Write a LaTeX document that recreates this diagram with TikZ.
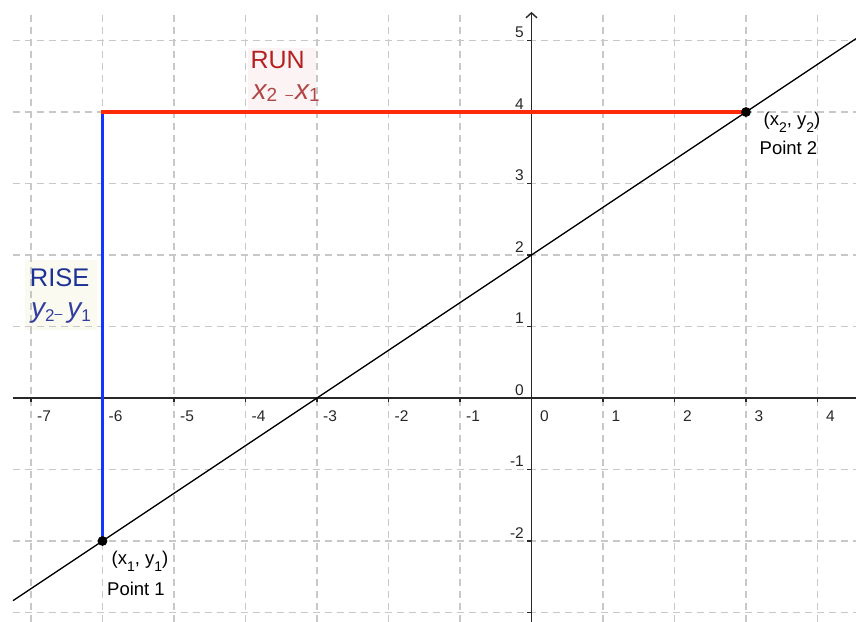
\documentclass[tikz,border=0pt]{standalone}
\usepackage{fontspec}
\setmainfont{Liberation Sans}
\usetikzlibrary{arrows.meta}
\definecolor{gridgray}{RGB}{200,200,200}
\definecolor{axisgray}{RGB}{40,40,40}
\definecolor{runred}{RGB}{255,42,8}
\definecolor{riseblue}{RGB}{22,52,255}
\definecolor{runtext}{RGB}{182,32,32}
\definecolor{runsub}{RGB}{176,70,70}
\definecolor{risetext}{RGB}{30,50,150}
\definecolor{risesub}{RGB}{52,62,160}
\definecolor{runbg}{RGB}{252,244,244}
\definecolor{risebg}{RGB}{250,250,240}
\newcommand{\bigit}[1]{{\fontsize{28}{28}\selectfont\itshape #1}}
\newcommand{\runsubs}[1]{{\fontsize{19}{19}\selectfont\raisebox{-1.7pt}{#1}}}
\newcommand{\risesubs}[1]{{\fontsize{17}{17}\selectfont\raisebox{-4pt}{#1}}}
\newcommand{\ptsub}[1]{{\fontsize{14}{14}\selectfont\raisebox{-7pt}{#1}}}
\tikzset{
  gridline/.style={gridgray, line width=1.2pt, dash pattern=on 7pt off 5pt},
  axisline/.style={axisgray, line width=1.4pt},
  tickline/.style={axisgray, line width=1.2pt},
  xlab/.style={anchor=north, inner sep=0pt, font=\fontsize{15.5}{15.5}\selectfont, text=axisgray},
  ylab/.style={anchor=east, inner sep=0pt, font=\fontsize{15.5}{15.5}\selectfont, text=axisgray},
  ptlab/.style={anchor=base west, inner sep=0pt, font=\fontsize{18.5}{18.5}\selectfont},
  bigtext/.style={anchor=base west, inner sep=0pt, font=\fontsize{25}{25}\selectfont},
  dot/.style={fill=black},
}
\begin{document}
\begin{tikzpicture}[x=71.5pt,y=71.5pt]
\useasboundingbox (-7.4336,-3.1329) rectangle (4.5385,5.5664);
\fill[white] (-7.4336,-3.1329) rectangle (4.5385,5.5664);
% label backgrounds
\fill[runbg] (-3.97,4.02) rectangle (-3.01,4.90);
\fill[risebg] (-7.08,0.95) rectangle (-6.07,1.93);
% grid
\foreach \i in {-7,...,4} \draw[gridline] (\i,-3.1329) -- (\i,5.40);
\foreach \j in {-3,...,5} \draw[gridline] (-7.2517,\j) -- (4.5385,\j);
% axes
\coordinate (xl) at (-7.2517,0);
\coordinate (xr) at (4.5385,0);
\coordinate (yb) at (0,-3.1329);
\coordinate (yt) at (0,5.40);
\draw[axisline] (xl) -- (xr);
\draw[axisline, -{Straight Barb[length=5pt,width=11pt]}] (yb) -- (yt);
% ticks and labels
\foreach \i in {-7,...,4} {
  \draw[tickline] (\i,0) -- ++(0,-4pt);
  \node[xlab, xshift=13pt, yshift=-12.7pt] (xl\i) at (\i,0) {\i};
}
\foreach \j in {-3,...,5} \draw[tickline] (0,\j) -- ++(-4pt,0);
\foreach \j in {-2,...,5} \node[ylab, xshift=-7.5pt, yshift=8pt] (yl\j) at (0,\j) {\j};
% points
\coordinate (P1) at (-6,-2);
\coordinate (P2) at (3,4);
\coordinate (C) at (-6,4);
\coordinate (La) at (-7.2517,-2.8345);
\coordinate (Lb) at (4.5385,5.0257);
\draw[black, line width=1.3pt] (La) -- (Lb);
\draw[riseblue, line width=2.8pt] (P1) -- (C);
\draw[runred, line width=3.3pt] ([xshift=-1.4pt]C) -- (P2);
\fill[dot] (P1) circle (4.9pt);
\fill[dot] (P2) circle (4.9pt);
% point labels
\node[ptlab, xshift=17.5pt, yshift=-14pt] (p2a) at (P2) {(x\ptsub{2}, y\ptsub{2})};
\node[ptlab, xshift=13.5pt, yshift=-43pt] (p2b) at (P2) {Point 2};
\node[ptlab, xshift=9pt, yshift=-24pt] (p1a) at (P1) {(x\ptsub{1}, y\ptsub{1})};
\node[ptlab, xshift=4.5pt, yshift=-54.7pt] (p1b) at (P1) {Point 1};
% RUN / RISE
\node[bigtext, text=runtext] (run) at (-3.931,4.6014) {RUN};
\node[anchor=base west, inner sep=0pt, text=runsub] (runf) at (-3.902,4.1678)
  {\bigit{x}\runsubs{2}\hspace{8pt}{\fontsize{14}{14}\selectfont\raisebox{0.5pt}{–}}\hspace{2pt}\bigit{x}\runsubs{1}};
\node[bigtext, text=risetext, font=\fontsize{25.5}{25.5}\selectfont] (rise) at (-7.018,1.5566) {RISE};
\node[anchor=base west, inner sep=0pt, text=risesub] (risef) at (-7.0,1.1245)
  {\bigit{y}\risesubs{2}{\fontsize{14}{14}\selectfont\raisebox{-1pt}{–}}\hspace{5pt}\bigit{y}\risesubs{1}};
\end{tikzpicture}
\end{document}
